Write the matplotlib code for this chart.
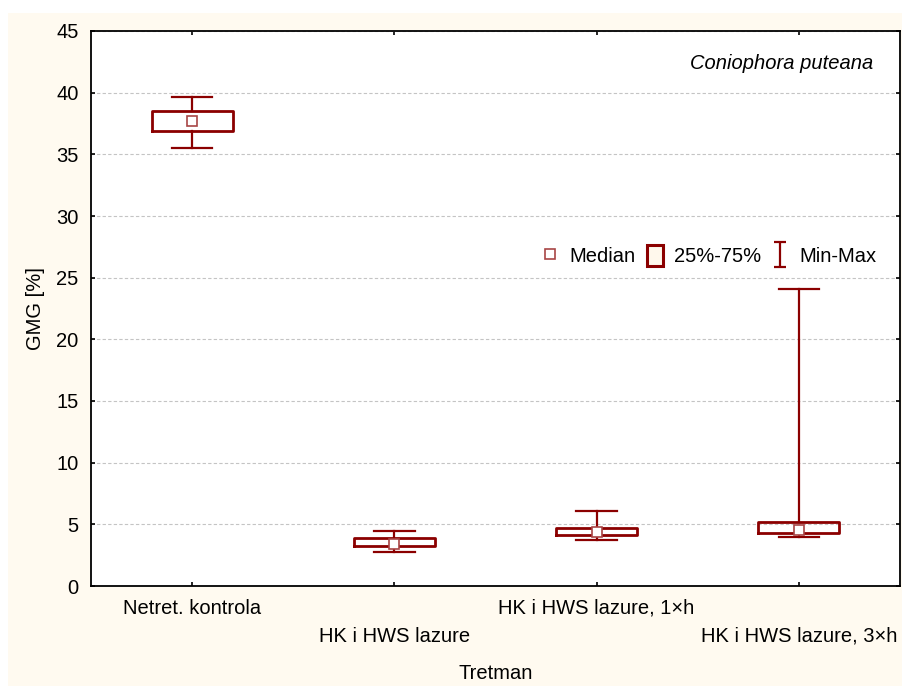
import matplotlib.pyplot as plt
from matplotlib.lines import Line2D
from matplotlib.patches import Patch, Rectangle
from matplotlib.path import Path

plt.rcParams['font.family'] = ['Liberation Sans', 'DejaVu Sans']

# data
groups = ['Netret. kontrola', 'HK i HWS lazure', 'HK i HWS lazure, 1×h', 'HK i HWS lazure, 3×h']
median = [37.7, 3.4, 4.4, 4.55]
q25 = [36.9, 3.25, 4.15, 4.3]
q75 = [38.5, 3.9, 4.7, 5.15]
vmin = [35.5, 2.75, 3.7, 4.0]
vmax = [39.65, 4.45, 6.05, 24.1]
yticks = [0, 5, 10, 15, 20, 25, 30, 35, 40, 45]

red = '#8b0000'
medred = '#a84545'
fs = 14.5

fig = plt.figure(figsize=(9.02, 6.86), dpi=100, facecolor='white')
# cream background panel
fig.patches.append(Rectangle((8 / 902, 0), 1, (686 - 13) / 686, transform=fig.transFigure,
                             facecolor='#fffaf0', edgecolor='none', zorder=-10))
ax = fig.add_axes([91 / 902, 1 - 586 / 686, (900 - 91) / 902, (586 - 31) / 686])
ax.set_facecolor('white')

x = list(range(len(groups)))
stats = []
for i in x:
    stats.append({'med': median[i], 'q1': q25[i], 'q3': q75[i],
                  'whislo': vmin[i], 'whishi': vmax[i], 'fliers': []})

ax.bxp(stats, positions=x, widths=0.4, capwidths=0.2, showfliers=False,
       boxprops=dict(color=red, linewidth=2.0),
       whiskerprops=dict(color=red, linewidth=1.6),
       capprops=dict(color=red, linewidth=1.6),
       medianprops=dict(visible=False))
ax.plot(x, median, 's', markersize=6.5, markerfacecolor='white',
        markeredgecolor=medred, markeredgewidth=1.2, linestyle='none', zorder=5)

ax.set_xlim(-0.5, len(groups) - 0.5)
ax.set_ylim(0, 45)
ax.set_yticks(yticks)
ax.set_xticks(x)
labels = [g if i % 2 == 0 else '\n' + g for i, g in enumerate(groups)]
ax.set_xticklabels(labels, linespacing=1.6)
ax.tick_params(direction='in', length=3, width=1.2, top=True, right=True,
               labelsize=fs, pad=9)
ax.yaxis.grid(True, color='#c4c4c4', linestyle=(0, (3, 2)), linewidth=0.8)
ax.set_axisbelow(True)
for s in ax.spines.values():
    s.set_linewidth(1.3)

ax.set_xlabel('Tretman', fontsize=fs, labelpad=13)
ax.set_ylabel('GMG [%]', fontsize=fs, labelpad=8)

ax.text(0.967, 0.942, 'Coniophora puteana', transform=ax.transAxes,
        fontsize=fs, style='italic', ha='right', va='center')

# legend
imark = Path([(-0.5, 1), (0.5, 1), (0, 1), (0, -1), (-0.5, -1), (0.5, -1)],
             [Path.MOVETO, Path.LINETO, Path.MOVETO, Path.LINETO, Path.MOVETO, Path.LINETO])
handles = [
    Line2D([], [], marker='s', markersize=6.5, markerfacecolor='white',
           markeredgecolor=medred, markeredgewidth=1.2, linestyle='none'),
    Patch(facecolor='#fff8ec', edgecolor=red, linewidth=2.2),
    Line2D([], [], marker=imark, markersize=18, color=red, markeredgewidth=1.6,
           linestyle='none'),
]
ax.legend(handles, ['Median', '25%-75%', 'Min-Max'], ncol=3, frameon=False,
          loc='center right', bbox_to_anchor=(0.993, 0.595), fontsize=fs,
          handlelength=0.8, handleheight=1.25, handletextpad=0.55, columnspacing=0.55)

fig.savefig('out.png', dpi=100, facecolor=fig.get_facecolor())
